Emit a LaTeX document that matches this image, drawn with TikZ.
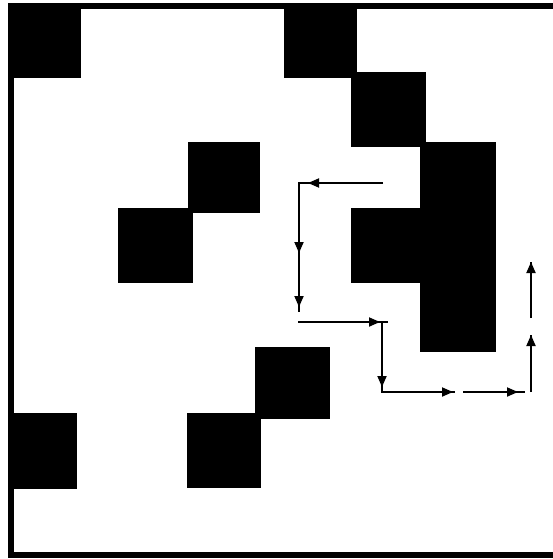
\documentclass[tikz,border=0pt]{standalone}
\usetikzlibrary{arrows.meta}
\begin{document}
\begin{tikzpicture}[x=1pt,y=-1pt,
  block/.style={fill=black},
  frame/.style={line width=6pt,line join=miter},
  trail/.style={line width=1.8pt},
  tip/.style={line width=1.8pt,-{Triangle[length=11pt,width=9pt]}}]
\useasboundingbox (0,0) rectangle (553,559);

% open frame (no right side)
\draw[frame] (553,6) -- (11,6) -- (11,555) -- (553,555);

% obstacles
\fill[block] (8,3) rectangle (81,78);
\fill[block] (284,3) rectangle (357,78);
\fill[block] (351,72) rectangle (426,147);
\fill[block] (188,142) rectangle (260,213);
\fill[block] (118,208) rectangle (193,283);
\fill[block] (420,142) rectangle (496,352);
\fill[block] (351,208) rectangle (425,283);
\fill[block] (255,347) rectangle (330,419);
\fill[block] (8,413) rectangle (77,489);
\fill[block] (187,413) rectangle (261,488);

% path corners
\coordinate (p0) at (383,183);
\coordinate (p1) at (299,183);
\coordinate (p2) at (299,312);
\coordinate (p3) at (298,322);
\coordinate (p4) at (382,322);
\coordinate (p5) at (382,392);
\coordinate (p6) at (455,392);
\coordinate (q0) at (463,392);
\coordinate (q1) at (525,392);
\coordinate (r0) at (531,392);
\coordinate (r1) at (531,335);
\coordinate (s0) at (531,318);
\coordinate (s1) at (531,262);

% path lines
\draw[trail] (p0) -- (p1) -- (p2);
\draw[trail] (p3) -- (p4) -- (388,322);
\draw[trail] (p4) -- (p5) -- (p6);
\draw[trail] (q0) -- (q1);
\draw[trail] (r0) -- (r1);
\draw[trail] (s0) -- (s1);

% direction marks
\draw[tip] (322,183) -- (308,183);
\draw[tip] (299,230) -- (299,253);
\draw[tip] (299,285) -- (299,307);
\draw[tip] (360,322) -- (380,322);
\draw[tip] (382,368) -- (382,387);
\draw[tip] (430,392) -- (453,392);
\draw[tip] (495,392) -- (518,392);
\draw[tip] (531,358) -- (r1);
\draw[tip] (531,286) -- (s1);
\end{tikzpicture}
\end{document}
